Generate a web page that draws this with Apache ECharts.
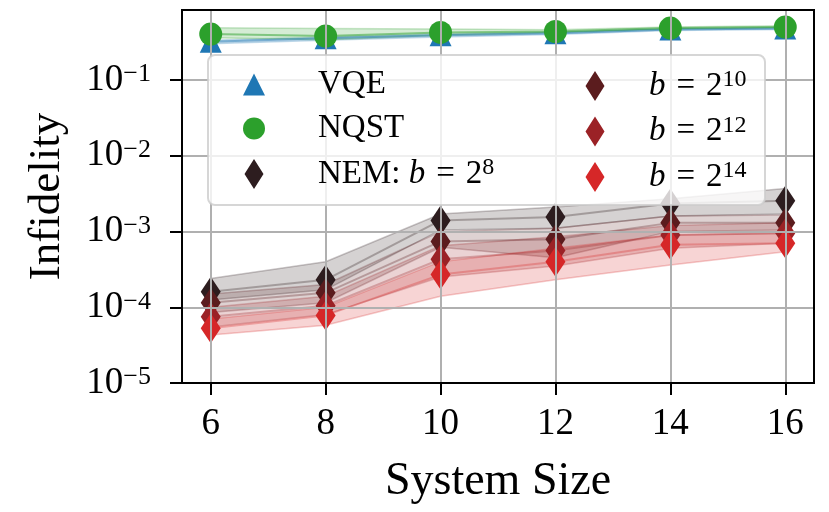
<!DOCTYPE html>
<html><head><meta charset="utf-8">
<script src="https://cdn.jsdelivr.net/npm/echarts@6/dist/echarts.min.js"></script>
<style>html,body{margin:0;padding:0;background:#fff}#c{width:829px;height:512px}</style>
</head><body><div id="c"></div>
<script>
const systemSizes = [6, 8, 10, 12, 14, 16];
const xTicks = [6, 8, 10, 12, 14, 16];
const yTicks = [1e-5, 1e-4, 1e-3, 1e-2, 1e-1];

const vqe      = [0.32, 0.355, 0.39, 0.415, 0.465, 0.48];
const vqeLow   = [0.30, 0.335, 0.37, 0.40, 0.45, 0.465];
const vqeHigh  = [0.335, 0.37, 0.405, 0.43, 0.48, 0.495];
const nqst     = [0.404, 0.38, 0.424, 0.437, 0.485, 0.50];
const nqstLow  = [0.36, 0.34, 0.39, 0.42, 0.47, 0.49];
const nqstHigh = [0.49, 0.48, 0.47, 0.46, 0.50, 0.52];

const nem8      = [1.6e-4, 2.3e-4, 1.4e-3, 1.55e-3, 2.35e-3, 2.55e-3];
const nem8Low   = [1.25e-4, 1.7e-4, 1.05e-3, 1.1e-3, 1.6e-3, 1.7e-3];
const nem8High  = [2.4e-4, 4.0e-4, 1.7e-3, 2.1e-3, 2.7e-3, 3.7e-3];
const nem10     = [1.15e-4, 1.55e-4, 7.4e-4, 7.9e-4, 1.3e-3, 1.3e-3];
const nem10Low  = [8.5e-5, 1.15e-4, 6.2e-4, 4.5e-4, 1.0e-3, 1.05e-3];
const nem10High = [1.5e-4, 2.0e-4, 1.0e-3, 1.1e-3, 1.6e-3, 1.65e-3];
const nem12     = [7.5e-5, 1.05e-4, 4.3e-4, 5.6e-4, 9.0e-4, 9.5e-4];
const nem12Low  = [5.5e-5, 8.0e-5, 2.5e-4, 3.5e-4, 6.0e-4, 7.0e-4];
const nem12High = [1.0e-4, 1.4e-4, 6.5e-4, 8.5e-4, 1.2e-3, 1.3e-3];
const nem14     = [5.3e-5, 7.8e-5, 2.7e-4, 4.0e-4, 6.7e-4, 7.0e-4];
const nem14Low  = [4.3e-5, 5.8e-5, 1.4e-4, 2.3e-4, 3.6e-4, 5.4e-4];
const nem14High = [7.0e-5, 1.0e-4, 4.0e-4, 6.0e-4, 9.0e-4, 9.5e-4];

const FONT = 'Liberation Serif';
const cBlue = '31,119,180', cGreen = '44,160,44';
const c8 = '45,29,31', c10 = '91,28,30', c12 = '155,34,38', c14 = '214,39,40';

function band(name, low, high, rgb, fillA, edgeA) {
  return {
    name: name, type: 'custom', z: 1, silent: true,
    data: systemSizes.map((x, i) => [x, low[i], high[i]]),
    encode: {x: 0, y: [1, 2]},
    renderItem: function (params, api) {
      if (params.dataIndex !== 0) return null;
      const top = [], bot = [];
      for (let i = 0; i < systemSizes.length; i++) {
        top.push(api.coord([systemSizes[i], high[i]]));
        bot.push(api.coord([systemSizes[i], low[i]]));
      }
      return {type: 'group', children: [
        {type: 'polygon', shape: {points: top.concat(bot.slice().reverse())},
         style: {fill: 'rgba(' + rgb + ',' + fillA + ')'}},
        {type: 'polyline', shape: {points: top},
         style: {stroke: 'rgba(' + rgb + ',' + edgeA + ')', lineWidth: 1.5, fill: null}},
        {type: 'polyline', shape: {points: bot},
         style: {stroke: 'rgba(' + rgb + ',' + edgeA + ')', lineWidth: 1.5, fill: null}}
      ]};
    }
  };
}
function line(name, vals, rgb, a) {
  return {name: name, type: 'line', z: 1, silent: true, symbol: 'none',
    data: systemSizes.map((x, i) => [x, vals[i]]),
    lineStyle: {color: 'rgba(' + rgb + ',' + a + ')', width: 2}};
}
function marks(name, vals, rgb, symbol, size) {
  return {name: name, type: 'scatter', z: 2, symbol: symbol, symbolSize: size,
    data: systemSizes.map((x, i) => [x, vals[i]]),
    itemStyle: {color: 'rgb(' + rgb + ')', opacity: 1}};
}

const N8 = 'NEM: b = 2^8', N10 = 'b = 2^10', N12 = 'b = 2^12', N14 = 'b = 2^14';
const EQ = '{t|\u2004=\u2004}';
const legendText = {
  'VQE': '{t|VQE}', 'NQST': '{t|NQST}',
  [N8]: '{t|NEM: }{i|b}' + EQ + '{t|2}{s|8}',
  [N10]: '{i|b}' + EQ + '{t|2}{s|10}', [N12]: '{i|b}' + EQ + '{t|2}{s|12}', [N14]: '{i|b}' + EQ + '{t|2}{s|14}'
};
const triIcon = 'path://M11,0L11,0ZM11,4L22,26L0,26ZM11,30L11,30Z';
const diaIcon = 'path://M0,15L0,15ZM22,15L22,15ZM1.5,15L11,0L20.5,15L11,30Z';
function legendCfg(left, items, padLeft) {
  return {
    left: left, top: 68, padding: 0, orient: 'vertical', itemGap: 11,
    itemWidth: 22, itemHeight: 30, selectedMode: false, z: 6,
    data: items,
    formatter: n => legendText[n],
    textStyle: {fontFamily: FONT, fontSize: 33, color: '#000', padding: [0, 0, 0, padLeft],
      rich: {
        t: {fontFamily: FONT, fontSize: 33, lineHeight: 36, color: '#000'},
        i: {fontFamily: FONT, fontSize: 33, lineHeight: 36, fontStyle: 'italic', color: '#000'},
        s: {fontFamily: FONT, fontSize: 24, lineHeight: 20, verticalAlign: 'top', color: '#000'}
      }}
  };
}

const axisLineStyle = {show: true, lineStyle: {color: '#000', width: 2}};
const tickStyle = {color: '#000', width: 2};
const gridLine = {show: true, lineStyle: {color: '#b0b0b0', width: 2}};

const option = {
  backgroundColor: '#fff',
  animation: false,
  grid: {left: 182, right: 15, top: 10, bottom: 129, show: true, borderColor: '#000', borderWidth: 2, z: 4, backgroundColor: 'transparent'},
  xAxis: {
    type: 'value', min: 5.5, max: 16.5, z: 3,
    axisLine: axisLineStyle,
    axisTick: {show: true, length: 12, lineStyle: tickStyle, customValues: xTicks},
    axisLabel: {customValues: xTicks, fontFamily: FONT, fontSize: 37, color: '#000', margin: 23},
    splitLine: gridLine,
    name: 'System Size', nameLocation: 'middle', nameGap: 76,
    nameTextStyle: {fontFamily: FONT, fontSize: 46, color: '#000'}
  },
  yAxis: {
    type: 'log', logBase: 10, min: 1e-5, max: 0.84, z: 3,
    axisLine: axisLineStyle,
    axisTick: {show: true, length: 12, lineStyle: tickStyle, customValues: yTicks},
    minorTick: {show: false},
    axisLabel: {customValues: yTicks, margin: 31, color: '#000',
      formatter: function (v) {
        const e = Math.log10(v), r = Math.round(e);
        if (Math.abs(e - r) > 1e-6) return '';
        return '{b|10}{s|\u2212' + Math.abs(r) + '}';
      },
      rich: {
        b: {fontFamily: FONT, fontSize: 37, lineHeight: 37, color: '#000'},
        s: {fontFamily: FONT, fontSize: 26, lineHeight: 24, verticalAlign: 'top', color: '#000'}
      }},
    splitLine: gridLine,
    name: 'Infidelity', nameLocation: 'middle', nameGap: 112,
    nameTextStyle: {fontFamily: FONT, fontSize: 45, color: '#000'}
  },
  legend: [
    legendCfg(243, [{name: 'VQE', icon: triIcon}, {name: 'NQST', icon: 'circle'}, {name: N8, icon: diaIcon}], 48),
    legendCfg(584, [{name: N10, icon: diaIcon}, {name: N12, icon: diaIcon}, {name: N14, icon: diaIcon}], 38)
  ],
  graphic: {elements: [{type: 'rect', z: 5, silent: true,
    shape: {x: 208, y: 55, width: 557, height: 150, r: 7},
    style: {fill: 'rgba(255,255,255,0.8)', stroke: 'rgba(204,204,204,0.8)', lineWidth: 2}}]},
  series: [
    band('bVQE', vqeLow, vqeHigh, cBlue, 0.2, 0.25),
    band('bNQST', nqstLow, nqstHigh, cGreen, 0.2, 0.25),
    band('b8', nem8Low, nem8High, c8, 0.2, 0.25),
    band('b10', nem10Low, nem10High, c10, 0.2, 0.25),
    band('b12', nem12Low, nem12High, c12, 0.2, 0.25),
    band('b14', nem14Low, nem14High, c14, 0.2, 0.25),
    line('lVQE', vqe, cBlue, 0.5),
    line('lNQST', nqst, cGreen, 0.5),
    line('l8', nem8, c8, 0.3),
    line('l10', nem10, c10, 0.3),
    line('l12', nem12, c12, 0.3),
    line('l14', nem14, c14, 0.3),
    marks('VQE', vqe, cBlue, 'triangle', [22, 22]),
    marks('NQST', nqst, cGreen, 'circle', 23),
    marks(N8, nem8, c8, 'diamond', [20, 30]),
    marks(N10, nem10, c10, 'diamond', [20, 30]),
    marks(N12, nem12, c12, 'diamond', [20, 30]),
    marks(N14, nem14, c14, 'diamond', [20, 30])
  ]
};
const chart = echarts.init(document.getElementById('c'), null, {renderer: 'canvas'});
chart.setOption(option);
</script></body></html>
